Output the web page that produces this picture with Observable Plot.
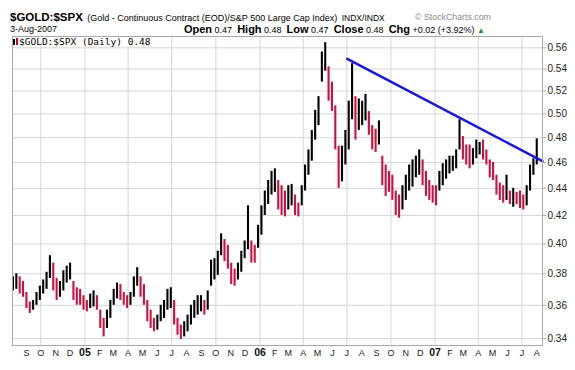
<!DOCTYPE html>
<html>
<head>
<meta charset="utf-8">
<script src="https://cdn.jsdelivr.net/npm/d3@7"></script>
<script src="https://cdn.jsdelivr.net/npm/@observablehq/plot@0.6"></script>
<style>
  html, body { margin: 0; padding: 0; background: #fff; }
  #wrap { position: relative; width: 575px; height: 370px; font-family: "Liberation Sans", Arial, sans-serif; color: #000; }
  .abs { position: absolute; white-space: nowrap; line-height: 12px; }
  #chart svg { display: block; }
</style>
</head>
<body>
<div id="wrap">
  <div id="chart"></div>
  <div class="abs" style="left:10px; top:10px;">
    <span style="font-size:11.5px; font-weight:bold;">$GOLD:$SPX</span>
    <span style="font-size:9px;">(Gold - Continuous Contract (EOD)/S&amp;P 500 Large Cap Index)</span>
    <span style="font-size:8.5px;">INDX/INDX</span>
  </div>
  <div class="abs" style="left:415px; top:11px; font-size:8.8px; color:#8a8a8a;">© StockCharts.com</div>
  <div class="abs" style="left:10px; top:23px; font-size:9px;">3-Aug-2007</div>
  <div class="abs" style="right:90px; top:23px; font-size:9px;">
    <b style="font-size:11px;">Open</b> 0.47 &nbsp;<b style="font-size:11px;">High</b> 0.48 &nbsp;<b style="font-size:11px;">Low</b> 0.47 &nbsp;<b style="font-size:11px;">Close</b> 0.48 &nbsp;<b style="font-size:11px;">Chg</b> +0.02 (+3.92%) <span style="color:#1a9a1a;font-size:8px;">▲</span>
  </div>
  <div class="abs" style="left:13px; top:37px; height:9px; line-height:9px; background:#fff; padding-right:2px; font-family:'DejaVu Sans Mono', monospace; font-size:9.5px;">
    <svg width="6" height="8" style="vertical-align:-1px"><rect x="0" y="1" width="2" height="6" fill="#000"/><rect x="3" y="0" width="2" height="7" fill="#cc0033"/></svg>$GOLD:$SPX (Daily) 0.48
  </div>
</div>
<script>
// ---- data (weekly high / low) ----
const firstWeek = "2004-08-04";
const lastWeek = "2007-08-01";
const hi = [
0.378,0.38,0.378,0.375,0.368,0.362,0.363,0.368,0.372,0.376,
0.381,0.392,0.387,0.377,0.375,0.382,0.385,0.387,0.375,0.371,
0.37,0.366,0.363,0.367,0.369,0.366,0.357,0.352,0.357,0.363,
0.37,0.374,0.373,0.368,0.366,0.368,0.378,0.384,0.378,0.373,
0.363,0.357,0.352,0.354,0.36,0.363,0.37,0.371,0.363,0.352,
0.348,0.35,0.354,0.36,0.363,0.366,0.366,0.363,0.369,0.389,
0.39,0.395,0.407,0.403,0.399,0.387,0.383,0.387,0.395,0.402,
0.427,0.402,0.399,0.413,0.427,0.438,0.446,0.453,0.455,0.446,
0.442,0.438,0.442,0.443,0.435,0.429,0.442,0.458,0.47,0.486,
0.503,0.515,0.556,0.565,0.542,0.528,0.507,0.473,0.473,0.486,
0.511,0.545,0.515,0.513,0.511,0.517,0.502,0.49,0.487,0.494,
0.465,0.458,0.453,0.45,0.438,0.435,0.442,0.45,0.458,0.462,
0.465,0.47,0.462,0.453,0.446,0.442,0.442,0.453,0.459,0.462,
0.465,0.465,0.47,0.495,0.481,0.474,0.474,0.471,0.478,0.476,
0.478,0.47,0.462,0.46,0.45,0.444,0.442,0.45,0.438,0.44,
0.437,0.438,0.435,0.442,0.458,0.463,0.479
];
const lo = [
0.369,0.37,0.367,0.365,0.358,0.355,0.357,0.36,0.363,0.367,
0.37,0.377,0.369,0.363,0.365,0.369,0.374,0.376,0.363,0.36,
0.36,0.357,0.356,0.358,0.359,0.357,0.346,0.341,0.346,0.352,
0.36,0.364,0.363,0.36,0.358,0.36,0.365,0.372,0.365,0.36,
0.35,0.346,0.344,0.345,0.35,0.352,0.357,0.358,0.348,0.342,
0.3395,0.341,0.344,0.348,0.352,0.354,0.356,0.354,0.357,0.372,
0.376,0.379,0.392,0.388,0.383,0.373,0.372,0.376,0.381,0.39,
0.396,0.387,0.387,0.397,0.406,0.42,0.428,0.435,0.437,0.424,
0.42,0.419,0.424,0.427,0.42,0.419,0.427,0.438,0.45,0.461,
0.478,0.49,0.528,0.538,0.511,0.502,0.47,0.44,0.445,0.458,
0.47,0.495,0.478,0.486,0.49,0.494,0.482,0.47,0.468,0.474,
0.442,0.434,0.437,0.431,0.42,0.418,0.424,0.431,0.438,0.441,
0.448,0.45,0.442,0.434,0.431,0.429,0.427,0.438,0.442,0.447,
0.451,0.453,0.455,0.47,0.462,0.458,0.455,0.458,0.463,0.466,
0.462,0.458,0.448,0.446,0.435,0.431,0.429,0.431,0.428,0.426,
0.428,0.425,0.424,0.427,0.438,0.45,0.458
];
const trendDates = ["2006-07-02", "2007-08-13"];
const trendValues = [0.5495, 0.461];
const yTicks = [0.34,0.36,0.38,0.40,0.42,0.44,0.46,0.48,0.50,0.52,0.54,0.56];
const monthLetters = ["J","F","M","A","M","J","J","A","S","O","N","D"];
const xStart = "2004-08-03", xEnd = "2007-08-13";
const labelStart = "2004-09-01";

// ---- build tables ----
const dates = d3.utcWednesday.range(new Date(firstWeek), d3.utcDay.offset(new Date(lastWeek), 1));
const bars = hi.map((h, i) => ({date: dates[i], hi: h, lo: lo[i]}));
bars.forEach((d, i) => {
  const mid = (d.hi + d.lo) / 2;
  const prev = i ? (bars[i-1].hi + bars[i-1].lo) / 2 : mid;
  d.up = mid >= prev;
});
const trend = trendDates.map((t, i) => ({date: new Date(t), value: trendValues[i]}));
const months = d3.utcMonth.range(new Date(labelStart), new Date(xEnd));
const monthLabels = months.filter(m => m.getUTCMonth() !== 0);
const yearLabels = months.filter(m => m.getUTCMonth() === 0);
const quarterLines = d3.utcMonth.range(new Date(xStart), new Date(xEnd)).filter(m => m.getUTCMonth() % 3 === 0);

const chart = Plot.plot({
  width: 575,
  height: 370,
  marginTop: 36,
  marginLeft: 12,
  marginRight: 33,
  marginBottom: 25,
  style: {fontFamily: "Liberation Sans, Arial, sans-serif", fontSize: "10px", background: "transparent", color: "#222", overflow: "visible"},
  x: {type: "utc", domain: [new Date(xStart), new Date(xEnd)], axis: null},
  y: {type: "log", domain: [0.336, 0.571], axis: null},
  marks: [
    Plot.gridY(yTicks, {stroke: "#d6d6d6", strokeOpacity: 1}),
    Plot.gridX(quarterLines, {stroke: "#d6d6d6", strokeOpacity: 1}),
    Plot.ruleX(bars.filter(d => !d.up), {x: "date", y1: "lo", y2: "hi", stroke: "#cc1040", strokeWidth: 2.1}),
    Plot.ruleX(bars.filter(d => d.up), {x: "date", y1: "lo", y2: "hi", stroke: "#000", strokeWidth: 2.1}),
    Plot.line(trend, {x: "date", y: "value", stroke: "#1818d8", strokeWidth: 2.5}),
    Plot.frame({stroke: "#a8a8a8"}),
    Plot.axisY(yTicks, {anchor: "right", tickFormat: ".2f", tickSize: 3, tickPadding: 2, stroke: "#a8a8a8", fill: "#222", fontSize: 10}),
    Plot.text(monthLabels, {x: d => d, frameAnchor: "bottom", dy: 10, text: d => monthLetters[d.getUTCMonth()], fontSize: 9, fill: "#222"}),
    Plot.text(yearLabels, {x: d => d, frameAnchor: "bottom", dy: 10, text: d => d3.utcFormat("%y")(d), fontSize: 10.5, fontWeight: "bold", fill: "#111"})
  ]
});
document.getElementById("chart").appendChild(chart);
</script>
</body>
</html>
